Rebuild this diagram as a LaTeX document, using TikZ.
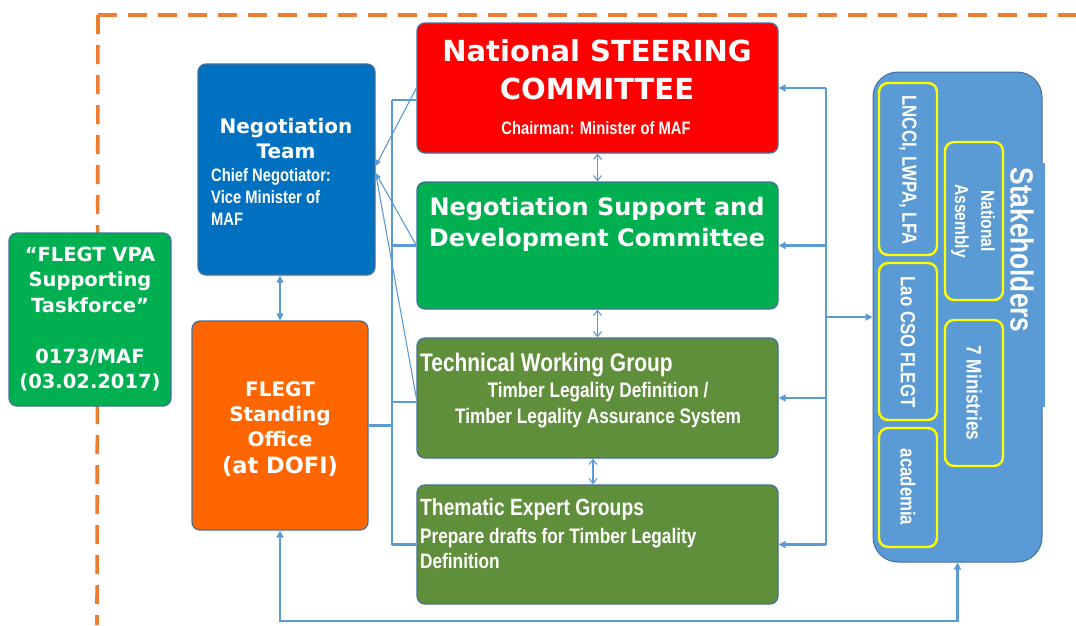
\documentclass[tikz,border=0pt]{standalone}
\usepackage{fontspec}
\setmainfont{DejaVu Sans}
\newfontfamily\nar[FakeStretch=0.82]{Liberation Sans}
\usetikzlibrary{arrows.meta}
\definecolor{bord}{HTML}{41719C}
\definecolor{lblue}{HTML}{5B9BD5}
\definecolor{dorange}{HTML}{ED7D31}
\definecolor{cred}{HTML}{FF0000}
\definecolor{cgreen}{HTML}{00B050}
\definecolor{colive}{HTML}{5F8F3A}
\definecolor{cblue}{HTML}{0070C0}
\definecolor{corange}{HTML}{FF6600}
\definecolor{cyel}{HTML}{FFFF00}
\begin{document}
\begin{tikzpicture}[x=1pt,y=-1pt,
  box/.style={draw=bord, line width=1.3pt, rounded corners=8pt, inner sep=0pt},
  ybox/.style={draw=cyel, line width=2.4pt, rounded corners=9pt, inner sep=0pt, minimum width=58pt},
  wt/.style={text=white, inner sep=0pt},
  dashline/.style={draw=dorange, line width=3.6pt, dash pattern=on 19pt off 11pt},
  conn/.style={draw=lblue, line width=2.4pt},
  thinc/.style={draw=lblue, line width=1.1pt},
  tip/.style={-{Triangle[length=7pt,width=7pt]}},
  dtip/.style={{Triangle[length=7pt,width=7pt]}-{Triangle[length=7pt,width=7pt]}},
  stip/.style={-{Triangle[length=6pt,width=5pt]}},
  vtip/.style={{Straight Barb[length=5pt,width=8pt]}-{Straight Barb[length=5pt,width=8pt]}},
  ttl/.style={font=\bfseries\fontsize{#1}{#1}\selectfont},
  nrw/.style={font=\nar\bfseries\fontsize{#1}{#1}\selectfont}
]
\useasboundingbox (0,0) rectangle (1076,625);

% dashed orange frame
\coordinate (corner) at (98,15);
\coordinate (dright) at (1076,15);
\coordinate (dbottom) at (97,625);
\draw[dashline] (corner) -- (dright);
\draw[dashline] (corner) -- (dbottom);

% boxes
\node[box, fill=cgreen, minimum width=162pt, minimum height=173pt] (tf) at (90,319.5) {};
\node[box, fill=cblue, minimum width=177pt, minimum height=211pt] (nt) at (286.5,169.5) {};
\node[box, fill=corange, minimum width=176pt, minimum height=209pt] (fl) at (280,425.5) {};
\node[box, fill=cred, minimum width=361pt, minimum height=130pt] (nsc) at (597.5,88) {};
\node[box, fill=cgreen, minimum width=361pt, minimum height=127pt] (nsdc) at (597.5,245.5) {};
\node[box, fill=colive, minimum width=361pt, minimum height=120pt] (twg) at (597.5,398) {};
\node[box, fill=colive, minimum width=361pt, minimum height=119pt] (teg) at (597.5,544.5) {};
\node[draw=bord, line width=1pt, fill=lblue, rounded corners=25pt, inner sep=0pt, minimum width=169pt, minimum height=490pt] (sh) at (957.5,317) {};
\fill[lblue] (1030,163) rectangle (1044.5,407);

% yellow sub-boxes
\node[ybox, minimum height=172pt] (y1) at (908,169) {};
\node[ybox, minimum height=157pt] (y2) at (908,341.5) {};
\node[ybox, minimum height=119pt] (y3) at (908,487.5) {};
\node[ybox, minimum height=158pt] (y4) at (974,221) {};
\node[ybox, minimum height=146pt] (y5) at (974,393) {};

% texts
\node[wt, align=center, font=\bfseries\fontsize{19.5}{25.5}\selectfont] (tft) at (90,319) {“FLEGT VPA\\Supporting\\Taskforce”\\[25.5pt]0173/MAF\\(03.02.2017)};
\node[wt, align=center, font=\bfseries\fontsize{20}{25}\selectfont] (ntt) at (286,139) {Negotiation\\Team};
\node[wt, align=left, anchor=west, font=\nar\bfseries\fontsize{18}{22}\selectfont] (nts) at (211,197) {Chief Negotiator:\\Vice Minister of\\MAF};
\node[wt, align=center, font=\bfseries\fontsize{20}{25}\selectfont] (flt) at (280,414) {FLEGT\\Standing\\Office};
\node[wt, ttl=22.5] (flt2) at (280,466) {(at DOFI)};
\node[wt, align=center, font=\bfseries\fontsize{29}{38}\selectfont] (nsct) at (597,70) {National STEERING\\COMMITTEE};
\node[wt, nrw=18] (nscs) at (596,128) {Chairman: Minister of MAF};
\node[wt, align=center, font=\bfseries\fontsize{24}{31}\selectfont] (nsdct) at (597,224) {Negotiation Support and\\Development Committee};
\node[wt, nrw=25.5, anchor=west] (twgt) at (420,365) {Technical Working Group};
\node[wt, align=center, font=\nar\bfseries\fontsize{21}{26}\selectfont] (twgs) at (598,405) {Timber Legality Definition /\\Timber Legality Assurance System};
\node[wt, nrw=23.5, anchor=west] (tegt) at (420,509) {Thematic Expert Groups};
\node[wt, align=left, anchor=west, font=\nar\bfseries\fontsize{21}{25}\selectfont] (tegs) at (420,548) {Prepare drafts for Timber Legality\\Definition};
\node[wt, nrw=32, rotate=-90] (sht) at (1022,250) {Stakeholders};
\node[wt, nrw=20.5, rotate=-90] (y1t) at (908,170) {LNCCI, LWPA, LFA};
\node[wt, nrw=20.5, rotate=-90] (y2t) at (908,342) {Lao CSO FLEGT};
\node[wt, nrw=20.5, rotate=-90] (y3t) at (908,487) {academia};
\node[wt, rotate=-90, align=center, font=\nar\bfseries\fontsize{19}{26}\selectfont] (y4t) at (973,221) {National\\Assembly};
\node[wt, nrw=21, rotate=-90] (y5t) at (974,393) {7 Ministries};

% right bus
\coordinate (rbus) at (826,0);
\draw[conn] (nsc.east -| rbus) -- (teg.east -| rbus);
\draw[conn, tip] (nsc.east -| rbus) -- (nsc.east);
\draw[conn, tip] (nsdc.east -| rbus) -- (nsdc.east);
\draw[conn, tip] (twg.east -| rbus) -- (twg.east);
\draw[conn, tip] (teg.east -| rbus) -- (teg.east);
\draw[conn, tip] (sh.west -| rbus) -- (sh.west);

% left bus
\coordinate (lbus) at (392,0);
\coordinate (ltop) at (392,100);
\draw[conn] (ltop) -- (teg.west -| lbus);
\draw[conn] (ltop) -- (ltop -| nsc.west);
\draw[conn] (nsdc.west -| lbus) -- (nsdc.west);
\draw[conn] ([yshift=-4pt]twg.west -| lbus) -- ([yshift=-4pt]twg.west);
\draw[conn] (teg.west -| lbus) -- (teg.west);
\draw[conn] (fl.east) -- (fl.east -| lbus);

% diagonals to negotiation team
\draw[thinc, stip] (nsc.west) -- ([yshift=3.5pt]nt.east);
\draw[thinc, stip] (nsdc.west) -- ([yshift=-3.5pt]nt.east);
\draw[thinc, stip] (twg.west) -- ([yshift=-3.5pt]nt.east);

% vertical double arrows
\draw[thinc, dtip, line width=1.3pt] (nt.south -| fl.north) -- (fl.north);
\draw[thinc, vtip] (nsc.south) -- (nsdc.north);
\draw[thinc, vtip] (nsdc.south) -- (twg.north);
\draw[thinc, vtip] ([xshift=-4.5pt]twg.south) -- ([xshift=-4.5pt]teg.north);

% bottom loop
\coordinate (bot) at (0,621);
\draw[conn, dtip] (fl.south) -- (fl.south |- bot) -- (sh.south |- bot) -- (sh.south);
\end{tikzpicture}
\end{document}
